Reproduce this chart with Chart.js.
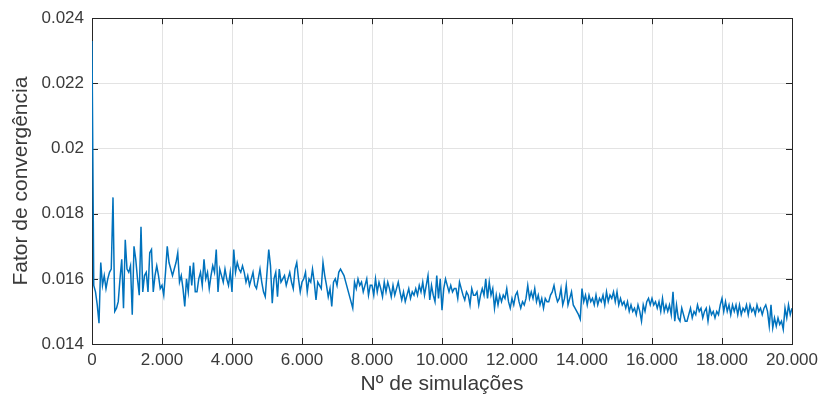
<!DOCTYPE html>
<html>
<head>
<meta charset="utf-8">
<script src="https://cdn.jsdelivr.net/npm/chart.js@4/dist/chart.umd.min.js"></script>
<style>
  html, body { margin: 0; padding: 0; background: #fff; }
  #chartConv { display: block; }
</style>
</head>
<body>
<canvas id="chartConv" width="824" height="403"></canvas>
<script>
// fator de convergência, um valor a cada 50 simulações (0 .. 20.000)
var passoSimulacoes = 50;
var fatorConvergencia = [
  0.0233, 0.0158, 0.0156, 0.0152, 0.01464, 0.0165, 0.0158, 0.0161, 0.0157, 0.0160, 0.0162, 0.0163, 0.0185, 0.0150, 0.0151, 0.0153, 0.0160, 0.0166, 0.0151, 0.0172,
  0.0163, 0.0162, 0.0164, 0.0149, 0.0170, 0.0166, 0.0160, 0.0155, 0.0176, 0.0156, 0.0161, 0.0162, 0.0156, 0.0168, 0.0169, 0.0156, 0.0161, 0.0164, 0.0161, 0.0157,
  0.0158, 0.0155, 0.0162, 0.0170, 0.0165, 0.0163, 0.0161, 0.0163, 0.0165, 0.0168, 0.0159, 0.0161, 0.0157, 0.01515, 0.0160, 0.0156, 0.0164, 0.0158, 0.0165, 0.0156,
  0.0156, 0.0160, 0.0162, 0.0158, 0.0166, 0.0160, 0.0162, 0.0157, 0.0161, 0.0164, 0.0162, 0.0169, 0.0156, 0.0163, 0.0161, 0.0159, 0.0163, 0.0160, 0.0158, 0.0162,
  0.0156, 0.0169, 0.0162, 0.0165, 0.0163, 0.0162, 0.0164, 0.0162, 0.0159, 0.0161, 0.0158, 0.0160, 0.0162, 0.0158, 0.0157, 0.0160, 0.0163, 0.0159, 0.0156, 0.01545,
  0.0162, 0.0169, 0.0164, 0.01525, 0.0160, 0.0162, 0.01545, 0.0163, 0.0159, 0.0160, 0.0161, 0.0158, 0.0160, 0.0162, 0.0159, 0.0157, 0.0163, 0.0165, 0.0160, 0.0156,
  0.0159, 0.0160, 0.0162, 0.0156, 0.0160, 0.0159, 0.0163, 0.0159, 0.01535, 0.0159, 0.0158, 0.0157, 0.0165, 0.0161, 0.0158, 0.01545, 0.0157, 0.01515, 0.0159, 0.0160,
  0.0158, 0.0162, 0.0163, 0.0162, 0.0161, 0.0159, 0.0157, 0.0155, 0.0153, 0.0151, 0.0159, 0.0157, 0.0160, 0.0158, 0.0159, 0.0156, 0.0158, 0.0160, 0.0155, 0.0158,
  0.0158, 0.0155, 0.0160, 0.0156, 0.0159, 0.0157, 0.01545, 0.0159, 0.0156, 0.0159, 0.0157, 0.01545, 0.0158, 0.0155, 0.0157, 0.0159, 0.0156, 0.01535, 0.0156, 0.0153,
  0.0155, 0.0157, 0.0154, 0.0156, 0.0155, 0.0157, 0.0155, 0.0158, 0.0156, 0.0159, 0.0155, 0.0158, 0.0161, 0.01535, 0.0158, 0.0155, 0.0153, 0.0161, 0.0154, 0.0160,
  0.01504, 0.0157, 0.0160, 0.0158, 0.0156, 0.0158, 0.0156, 0.0157, 0.0157, 0.0154, 0.0159, 0.0157, 0.0155, 0.01535, 0.0156, 0.0155, 0.0152, 0.0157, 0.0155, 0.0155,
  0.0156, 0.0152, 0.0155, 0.0157, 0.0155, 0.0160, 0.0154, 0.0159, 0.0155, 0.0157, 0.0151, 0.0155, 0.0152, 0.0155, 0.0153, 0.0155, 0.0154, 0.0157, 0.0153, 0.0151,
  0.0154, 0.0152, 0.0155, 0.0156, 0.0153, 0.0151, 0.0153, 0.0152, 0.0154, 0.0158, 0.0154, 0.0156, 0.0154, 0.0157, 0.0153, 0.0155, 0.0152, 0.0154, 0.0151, 0.0154,
  0.0153, 0.0153, 0.0155, 0.0156, 0.0158, 0.0155, 0.0153, 0.0154, 0.0157, 0.0152, 0.0154, 0.0158, 0.0152, 0.0154, 0.0156, 0.0152, 0.0151, 0.0150, 0.0149, 0.01476,
  0.0157, 0.0153, 0.0155, 0.0152, 0.0155, 0.0153, 0.0154, 0.0152, 0.0155, 0.0152, 0.0154, 0.0153, 0.0155, 0.0152, 0.0156, 0.0153, 0.0155, 0.0154, 0.0156, 0.0153,
  0.0156, 0.0152, 0.0154, 0.0152, 0.0153, 0.0151, 0.0153, 0.0150, 0.0152, 0.0150, 0.0151, 0.0149, 0.0152, 0.0150, 0.0147, 0.0152, 0.0150, 0.0153, 0.0154, 0.0152,
  0.0154, 0.0152, 0.0153, 0.0151, 0.0153, 0.0150, 0.0154, 0.0150, 0.0152, 0.0150, 0.0152, 0.0149, 0.0156, 0.0147, 0.0152, 0.0148, 0.0147, 0.0151, 0.0149, 0.0147,
  0.0147, 0.0149, 0.0151, 0.0148, 0.0150, 0.0149, 0.0152, 0.0150, 0.0151, 0.0148, 0.0150, 0.0151, 0.0147, 0.0151, 0.0149, 0.0150, 0.0148, 0.0150, 0.0149, 0.0152,
  0.0154, 0.0150, 0.0153, 0.0150, 0.0152, 0.0149, 0.0152, 0.0150, 0.0152, 0.0149, 0.0152, 0.0149, 0.0151, 0.0150, 0.0152, 0.0149, 0.0152, 0.0150, 0.0151, 0.0149,
  0.0152, 0.0150, 0.0151, 0.0149, 0.0151, 0.0152, 0.0150, 0.01455, 0.0152, 0.0145, 0.0148, 0.01455, 0.0148, 0.0146, 0.0147, 0.01445, 0.0151, 0.0148, 0.0152, 0.0149, 0.0151
];

var xTicks = [0, 2000, 4000, 6000, 8000, 10000, 12000, 14000, 16000, 18000, 20000];
var xTickLabels = ['0', '2.000', '4.000', '6.000', '8.000', '10.000', '12.000', '14.000', '16.000', '18.000', '20.000'];
var yTicks = [0.014, 0.016, 0.018, 0.020, 0.022, 0.024];
var yTickLabels = ['0.014', '0.016', '0.018', '0.02', '0.022', '0.024'];

(function () {
  var el = document.getElementById('chartConv');
  if (!el || typeof Chart === 'undefined') return;

  var pontos = fatorConvergencia.map(function (v, i) {
    return { x: i * passoSimulacoes, y: v };
  });

  var corEixo = '#262626';
  var corTexto = '#3a3a3a';
  var fonte = 'Liberation Sans, Arial, sans-serif';

  // caixa fechada com marcas de escala para dentro, nos quatro lados;
  // desenhada antes da curva para que a linha azul fique por cima da borda
  var caixaEixos = {
    id: 'caixaEixos',
    beforeDatasetsDraw: function (chart) {
      var ctx = chart.ctx;
      var a = chart.chartArea;
      var sx = chart.scales.x;
      var sy = chart.scales.y;
      var len = 6;
      ctx.save();
      ctx.strokeStyle = corEixo;
      ctx.lineWidth = 1;
      ctx.beginPath();
      xTicks.forEach(function (v) {
        var px = Math.round(sx.getPixelForValue(v)) + 0.5;
        ctx.moveTo(px, a.bottom); ctx.lineTo(px, a.bottom - len);
        ctx.moveTo(px, a.top); ctx.lineTo(px, a.top + len);
      });
      yTicks.forEach(function (v) {
        var py = Math.round(sy.getPixelForValue(v)) + 0.5;
        ctx.moveTo(a.left, py); ctx.lineTo(a.left + len, py);
        ctx.moveTo(a.right, py); ctx.lineTo(a.right - len, py);
      });
      ctx.stroke();
      ctx.strokeRect(Math.round(a.left) + 0.5, Math.round(a.top) + 0.5,
        Math.round(a.right - a.left), Math.round(a.bottom - a.top));
      ctx.restore();
    }
  };

  new Chart(el.getContext('2d'), {
    type: 'line',
    data: {
      datasets: [{
        data: pontos,
        borderColor: '#0072BD',
        borderWidth: 1.5,
        pointRadius: 0,
        tension: 0,
        fill: false
      }]
    },
    options: {
      responsive: false,
      animation: false,
      devicePixelRatio: 1,
      layout: { padding: { left: 0, right: 30, top: 18, bottom: 0 } },
      plugins: {
        legend: { display: false },
        tooltip: { enabled: false }
      },
      scales: {
        x: {
          type: 'linear',
          min: 0,
          max: 20000,
          afterFit: function (s) { s.height = 59; },
          afterBuildTicks: function (s) {
            s.ticks = xTicks.map(function (v) { return { value: v }; });
          },
          ticks: {
            padding: 6,
            maxRotation: 0,
            autoSkip: false,
            color: corTexto,
            font: { family: fonte, size: 17 },
            callback: function (v) {
              var i = xTicks.indexOf(v);
              return i >= 0 ? xTickLabels[i] : '';
            }
          },
          grid: { color: '#e3e3e3', drawTicks: false },
          border: { display: false },
          title: {
            display: true,
            text: 'Nº de simulações',
            color: corTexto,
            font: { family: fonte, size: 21 },
            padding: { top: 0, bottom: 6 }
          }
        },
        y: {
          min: 0.014,
          max: 0.024,
          afterFit: function (s) { s.width = 92; },
          afterBuildTicks: function (s) {
            s.ticks = yTicks.map(function (v) { return { value: v }; });
          },
          ticks: {
            padding: 8,
            color: corTexto,
            font: { family: fonte, size: 17 },
            callback: function (v) {
              for (var i = 0; i < yTicks.length; i++) {
                if (Math.abs(yTicks[i] - v) < 1e-9) return yTickLabels[i];
              }
              return '';
            }
          },
          grid: { color: '#e3e3e3', drawTicks: false },
          border: { display: false },
          title: {
            display: true,
            text: 'Fator de convergência',
            color: corTexto,
            font: { family: fonte, size: 21 },
            padding: { top: 9, bottom: 0 }
          }
        }
      }
    },
    plugins: [caixaEixos]
  });
})();
</script>
</body>
</html>
